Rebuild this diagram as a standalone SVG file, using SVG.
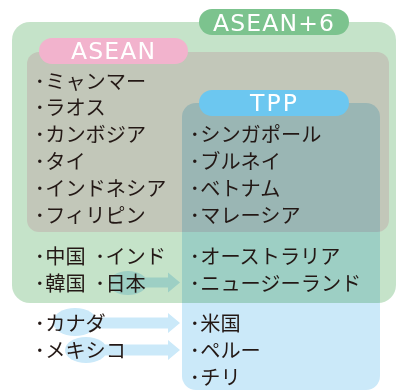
<svg xmlns="http://www.w3.org/2000/svg" width="396" height="392" viewBox="0 0 396 392">
<style>
.t{font-family:"Noto Sans CJK JP","Noto Sans",sans-serif;font-size:20.2px;fill:#231815}
.p{font-family:"DejaVu Sans","Liberation Sans",sans-serif;font-size:23.5px;fill:#ffffff;text-anchor:middle}
.mul{mix-blend-mode:multiply}
.lb{fill:#cbe9f9}
</style>
<rect width="396" height="392" fill="#ffffff"/>
<g id="asean6">
<rect x="12" y="22" width="384" height="281" rx="18" fill="#c5e3c9"/>
<rect x="199" y="9" width="150" height="26" rx="13" fill="#7cc38e"/>
<text class="p" x="273.5" y="30.8" textLength="121" lengthAdjust="spacing">ASEAN+6</text>
</g>
<g id="asean">
<rect x="27" y="52" width="362" height="180" rx="12" fill="#c2c7b9"/>
<rect x="39" y="38" width="149" height="26" rx="13" fill="#f2b3cd"/>
<text class="p" x="113" y="59.3" textLength="84" lengthAdjust="spacing">ASEAN</text>
</g>
<g id="tpp">
<rect class="mul lb" x="182" y="103" width="198" height="287" rx="14"/>
<rect x="199" y="90" width="150" height="26" rx="13" fill="#6cc7f0"/>
<text class="p" x="273.5" y="111.3" textLength="47" lengthAdjust="spacing">TPP</text>
</g>
<g id="connectors">
<g class="mul">
<ellipse class="lb" cx="128" cy="283" rx="19" ry="12"/>
<path class="lb" d="M140 277.5H168V272.5L180 282.5L168 292.5V287.5H140Z"/>
</g>
<g class="mul">
<ellipse class="lb" cx="75" cy="322" rx="22" ry="14"/>
<path class="lb" d="M95 317.5H168V313L180 323L168 333V328.5H95Z"/>
</g>
<g class="mul">
<ellipse class="lb" cx="86" cy="350" rx="21" ry="13"/>
<path class="lb" d="M105 344.5H168V340L180 350L168 360V355.5H105Z"/>
</g>
</g>
<g id="asean-members">
<text class="t" x="34.8" y="88.5">･<tspan x="45.2">ミャンマー</tspan></text>
<text class="t" x="34.8" y="115.3">･<tspan x="45.2">ラオス</tspan></text>
<text class="t" x="34.8" y="142.1">･<tspan x="45.2">カンボジア</tspan></text>
<text class="t" x="34.8" y="168.9">･<tspan x="45.2">タイ</tspan></text>
<text class="t" x="34.8" y="195.7">･<tspan x="45.2">インドネシア</tspan></text>
<text class="t" x="34.8" y="222.5">･<tspan x="45.2">フィリピン</tspan></text>
</g>
<g id="tpp-asean-members">
<text class="t" x="189.8" y="142.1">･<tspan x="200.2">シンガポール</tspan></text>
<text class="t" x="189.8" y="168.9">･<tspan x="200.2">ブルネイ</tspan></text>
<text class="t" x="189.8" y="195.7">･<tspan x="200.2">ベトナム</tspan></text>
<text class="t" x="189.8" y="222.5">･<tspan x="200.2">マレーシア</tspan></text>
</g>
<g id="plus6-members">
<text class="t" x="34.8" y="263.5">･<tspan x="45.2">中国</tspan></text>
<text class="t" x="95" y="263.5">･<tspan x="105.4">インド</tspan></text>
<text class="t" x="34.8" y="291">･<tspan x="45.2">韓国</tspan></text>
<text class="t" x="95" y="291">･<tspan x="105.4">日本</tspan></text>
<text class="t" x="189.8" y="263.5">･<tspan x="200.2">オーストラリア</tspan></text>
<text class="t" x="189.8" y="291">･<tspan x="200.2">ニュージーランド</tspan></text>
</g>
<g id="other-members">
<text class="t" x="34.8" y="331.4">･<tspan x="45.2">カナダ</tspan></text>
<text class="t" x="34.8" y="358.2">･<tspan x="45.2">メキシコ</tspan></text>
<text class="t" x="189.8" y="331.4">･<tspan x="200.2">米国</tspan></text>
<text class="t" x="189.8" y="358.2">･<tspan x="200.2">ペルー</tspan></text>
<text class="t" x="189.8" y="385">･<tspan x="200.2">チリ</tspan></text>
</g>
</svg>
